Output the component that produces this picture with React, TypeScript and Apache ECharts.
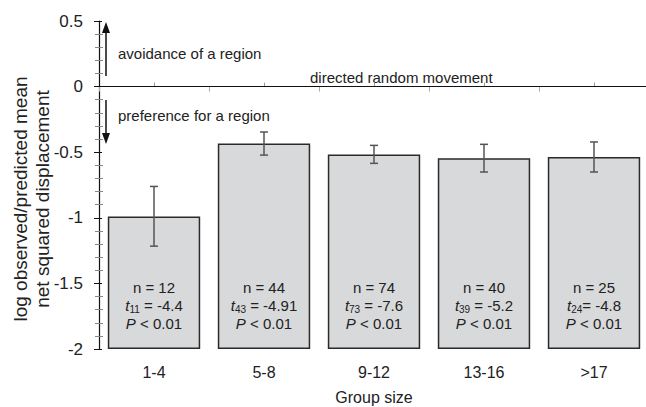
import React, { useEffect, useRef } from "react";
import * as echarts from "echarts";

const categories = ["1-4", "5-8", "9-12", "13-16", ">17"];
const means = [-0.99, -0.433, -0.517, -0.547, -0.537];
const errLow = [-1.216, -0.522, -0.585, -0.651, -0.651];
const errHigh = [-0.761, -0.346, -0.448, -0.44, -0.422];
const nValues = ["12", "44", "74", "40", "25"];
const tDf = ["11", "43", "73", "39", "24"];
const tValues = [" = -4.4", " = -4.91", " = -7.6", " = -5.2", "= -4.8"];
const pText = " < 0.01";
const yMin = -2;
const yMax = 0.5;

const FONT = "'Liberation Sans', Arial, Helvetica, sans-serif";

export default function App() {
  const ref = useRef<HTMLDivElement>(null);

  useEffect(() => {
    if (!ref.current) return;
    const chart = echarts.init(ref.current, null, { renderer: "svg" });

    const labelTexts = categories.map(
      (_, i) =>
        `{n|n = ${nValues[i]}}\n{t|t}{sub|${tDf[i]}}{n|${tValues[i]}}\n{t|P}{n|${pText}}`
    );

    const option: any = {
      animation: false,
      textStyle: { fontFamily: FONT },
      grid: {
        left: 99,
        top: 21,
        width: 550,
        height: 328,
        containLabel: false,
        outerBoundsMode: "none",
      },
      xAxis: [
        {
          type: "category",
          data: categories,
          axisLine: { show: true, lineStyle: { color: "#111", width: 1.2 } },
          axisTick: { show: true, length: 5, lineStyle: { color: "#aaa" } },
          axisLabel: { color: "#222", fontSize: 16, margin: 15, fontFamily: FONT },
          name: "Group size",
          nameLocation: "middle",
          nameGap: 40,
          nameTextStyle: { color: "#222", fontSize: 16, fontFamily: FONT },
        },
        {
          type: "category",
          data: categories,
          position: "bottom",
          axisLine: { show: false },
          axisTick: { show: true, alignWithLabel: true, inside: true, length: 4, lineStyle: { color: "#999" } },
          axisLabel: { show: false },
        },
      ],
      yAxis: [
        {
          type: "value",
          min: yMin,
          max: yMax,
          interval: 0.5,
          axisLine: { show: true, lineStyle: { color: "#111", width: 1.2 } },
          axisTick: { show: true, length: 5, lineStyle: { color: "#111" } },
          minorTick: { show: true, splitNumber: 5, length: 4, lineStyle: { color: "#888" } },
          splitLine: { show: false },
          axisLabel: {
            color: "#222",
            fontSize: 17,
            margin: 16,
            fontFamily: FONT,
            formatter: (v: number) => String(Math.round(v * 10) / 10),
          },
        },
        {
          type: "value",
          min: yMin,
          max: yMax,
          interval: 0.5,
          position: "left",
          axisLine: { show: false },
          axisTick: { show: true, inside: true, length: 3, lineStyle: { color: "#111" } },
          minorTick: { show: true, splitNumber: 5, length: 4, lineStyle: { color: "#888" } },
          splitLine: { show: false },
          axisLabel: { show: false },
        },
      ],
      series: [
        {
          type: "bar",
          stack: "bars",
          stackStrategy: "all",
          data: categories.map(() => yMin),
          itemStyle: { color: "transparent" },
          barCategoryGap: "16%",
          silent: true,
        },
        {
          type: "bar",
          stack: "bars",
          stackStrategy: "all",
          data: means.map((m) => m - yMin),
          barCategoryGap: "16%",
          itemStyle: { color: "#d8d9db", borderColor: "#2a2a2a", borderWidth: 1.5 },
          label: {
            show: true,
            position: "insideBottom",
            distance: 17,
            formatter: (p: any) => labelTexts[p.dataIndex],
            rich: {
              n: { fontSize: 15, lineHeight: 18, color: "#222", fontFamily: FONT },
              t: { fontSize: 15, lineHeight: 18, color: "#222", fontStyle: "italic", fontFamily: FONT },
              sub: { fontSize: 10, lineHeight: 9, color: "#222", verticalAlign: "bottom", fontFamily: FONT },
            },
          },
          markLine: {
            silent: true,
            symbol: "none",
            label: { show: false },
            lineStyle: { color: "#111", width: 1.2, type: "solid" },
            data: [{ yAxis: 0 }],
          },
        },
        {
          type: "custom",
          data: categories.map((_, i) => [i, errLow[i], errHigh[i]]),
          encode: { x: 0, y: [1, 2] },
          z: 10,
          renderItem: (params: any, api: any) => {
            const i = api.value(0);
            const lo = api.coord([i, api.value(1)]);
            const hi = api.coord([i, api.value(2)]);
            const hw = 4;
            const style = { stroke: "#555", lineWidth: 1.5 };
            return {
              type: "group",
              children: [
                { type: "line", shape: { x1: lo[0], y1: lo[1], x2: hi[0], y2: hi[1] }, style },
                { type: "line", shape: { x1: hi[0] - hw, y1: hi[1], x2: hi[0] + hw, y2: hi[1] }, style },
                { type: "line", shape: { x1: lo[0] - hw, y1: lo[1], x2: lo[0] + hw, y2: lo[1] }, style },
              ],
            };
          },
        },
      ],
      graphic: [
        {
          type: "text",
          x: 31,
          y: 199,
          rotation: Math.PI / 2,
          style: {
            text: "log observed/predicted mean\nnet squared displacement",
            fontSize: 19,
            lineHeight: 22,
            fill: "#222",
            fontFamily: FONT,
            align: "center",
            verticalAlign: "middle",
          },
        },
        { type: "line", shape: { x1: 106, y1: 76, x2: 106, y2: 31 }, style: { stroke: "#111", lineWidth: 1.5 } },
        { type: "polygon", shape: { points: [[102, 33], [110, 33], [106, 22]] }, style: { fill: "#111" } },
        { type: "line", shape: { x1: 106, y1: 100, x2: 106, y2: 135 }, style: { stroke: "#111", lineWidth: 1.5 } },
        { type: "polygon", shape: { points: [[102, 133], [110, 133], [106, 144]] }, style: { fill: "#111" } },
        {
          type: "text",
          x: 118,
          y: 53,
          style: { text: "avoidance of a region", fontSize: 15, fill: "#222", fontFamily: FONT, verticalAlign: "middle" },
        },
        {
          type: "text",
          x: 118,
          y: 115,
          style: { text: "preference for a region", fontSize: 15, fill: "#222", fontFamily: FONT, verticalAlign: "middle" },
        },
        {
          type: "text",
          x: 310,
          y: 77,
          style: { text: "directed random movement", fontSize: 15, fill: "#222", fontFamily: FONT, verticalAlign: "middle" },
        },
      ],
    };

    chart.setOption(option);
    return () => chart.dispose();
  }, []);

  return <div ref={ref} style={{ width: 646, height: 407, position: "absolute", left: 0, top: 0 }} />;
}
